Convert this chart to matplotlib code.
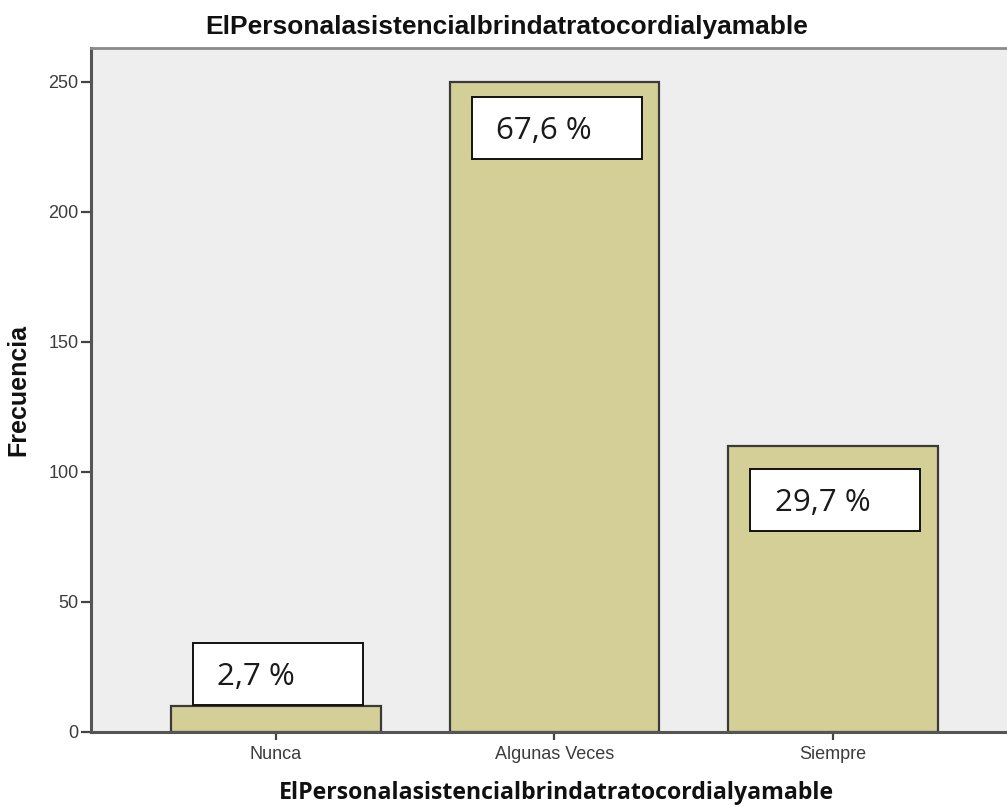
import matplotlib
matplotlib.use("Agg")
import matplotlib.pyplot as plt
from matplotlib.patches import Rectangle

# Frequency table
categorias = ["Nunca", "Algunas Veces", "Siempre"]
frecuencias = [10, 250, 110]
variable = "ElPersonalasistencialbrindatratocordialyamable"

total = sum(frecuencias)
porcentajes = [100 * f / total for f in frecuencias]

# Where each percentage box sits relative to its bar top (frequency units)
box_top_offset = [24.2, -5.8, -8.8]
box_height = 23.8
box_width = 0.61
bar_width = 0.753

bar_color = "#d4cf97"
panel_color = "#eeeeee"

fig = plt.figure(figsize=(10.07, 8.07), dpi=100)
ax = fig.add_axes([91 / 1007, 75 / 807, 1 - 91 / 1007 + 0.01, (732 - 48) / 807])
ax.set_facecolor(panel_color)

x = list(range(len(categorias)))
ax.bar(x, frecuencias, width=bar_width, color=bar_color,
       edgecolor="#3a3a3a", linewidth=1.6, zorder=2)

for xi, f, p, off in zip(x, frecuencias, porcentajes, box_top_offset):
    top = f + off
    left = xi - 0.297
    ax.add_patch(Rectangle((left, top - box_height), box_width, box_height,
                           facecolor="white", edgecolor="#111111",
                           linewidth=1.4, zorder=3))
    txt = f"{p:.1f}".replace(".", ",") + " %"
    ax.annotate(txt, xy=(left, top - box_height / 2), xytext=(17.5, -2.0),
                textcoords="offset points", ha="left", va="center",
                fontsize=22.5, family="Open Sans", color="#1a1a1a", zorder=4)

ax.set_xlim(-0.663, 2.66)
ax.set_ylim(0, 263)
ax.set_xticks(x)
ax.set_xticklabels(categorias)
ax.set_yticks([0, 50, 100, 150, 200, 250])

for side in ["left", "bottom"]:
    ax.spines[side].set_color("#555555")
    ax.spines[side].set_linewidth(2.2)
ax.spines["top"].set_color("#8a8a8a")
ax.spines["top"].set_linewidth(2.0)
ax.spines["right"].set_visible(False)

ax.tick_params(axis="y", direction="out", length=7, width=1.6, color="#444444",
               labelsize=13, labelcolor="#3c3c3c", pad=2)
ax.tick_params(axis="x", direction="out", length=6, width=1.6, color="#444444",
               labelsize=13, labelcolor="#3c3c3c", pad=4)
for lab in ax.get_xticklabels() + ax.get_yticklabels():
    lab.set_family("Liberation Sans")

fig.text(507 / 1007, 1 - 27 / 807, variable, ha="center", va="center",
         fontsize=19, fontweight="bold", family="Liberation Sans", color="#111111")
fig.text(556 / 1007, 1 - 793 / 807, variable, ha="center", va="center",
         fontsize=16.7, fontweight="bold", family="Open Sans", color="#111111")
fig.text(18 / 1007, 1 - 390 / 807, "Frecuencia", ha="center", va="center",
         rotation=90, fontsize=18, fontweight="bold", family="Liberation Sans",
         color="#111111")

fig.savefig("out.png", dpi=100)
